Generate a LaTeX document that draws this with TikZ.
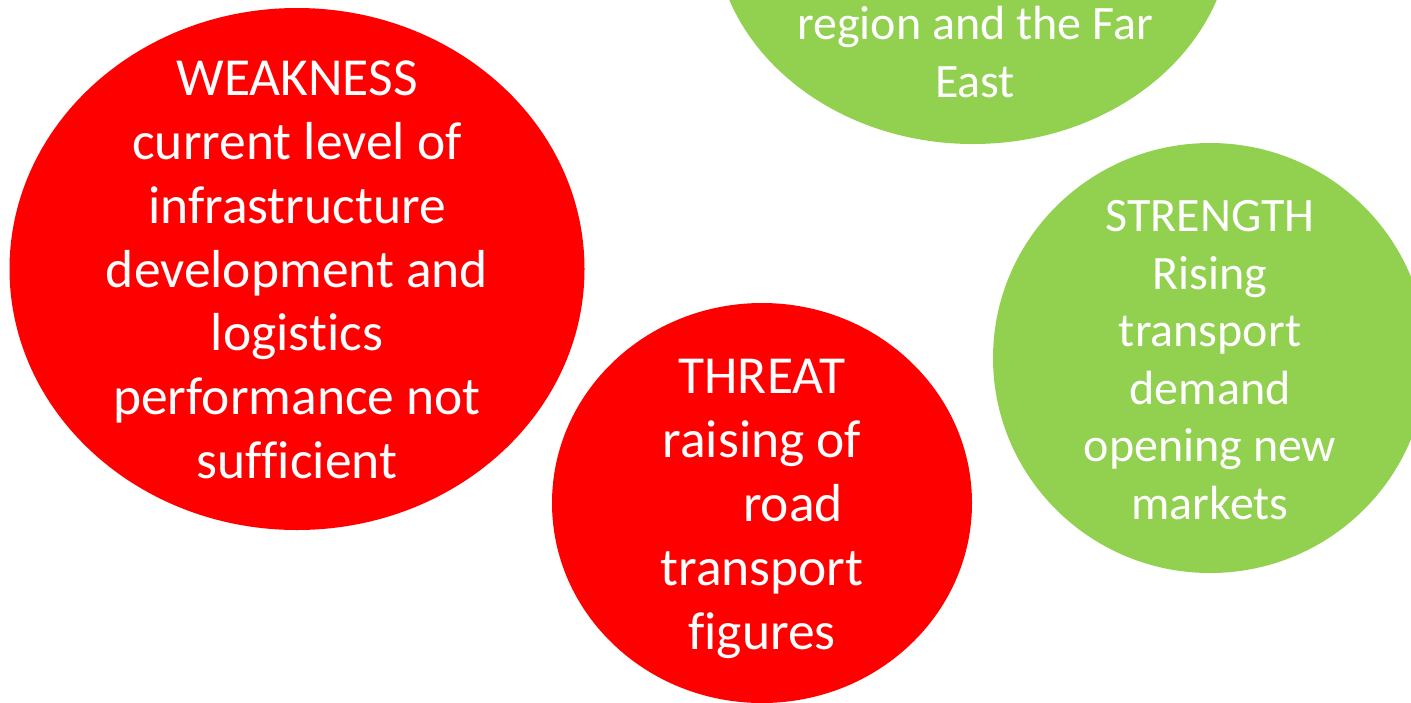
\documentclass[tikz,border=0pt]{standalone}
\usepackage{fontspec}
\setmainfont{Carlito}[Ligatures=CommonOff]
\usetikzlibrary{shapes.geometric}

\definecolor{swotred}{HTML}{FF0000}
\definecolor{swotgreen}{HTML}{92D050}

\begin{document}
\begin{tikzpicture}[x=1pt,y=-1pt,inner sep=0pt]
	\tikzstyle{bubble}=[ellipse, draw=none]
	\tikzstyle{big}=[text=white, align=center, font=\fontsize{53.5}{63.8}\selectfont]
	\tikzstyle{small}=[text=white, align=center, font=\fontsize{48}{57.6}\selectfont]

	\useasboundingbox (0,0) rectangle (1411,702);
	\clip (0,0) rectangle (1411,702);

	\node[bubble, fill=swotgreen, minimum width=518pt, minimum height=436pt] (O) at (973,-74) {};
	\node[bubble, fill=swotred, minimum width=575pt, minimum height=522pt] (W) at (297,269) {};
	\node[bubble, fill=swotred, minimum width=420pt, minimum height=400pt] (T) at (762,503) {};
	\node[bubble, fill=swotgreen, minimum width=434pt, minimum height=430pt] (S) at (1210,358) {};

	\node[small, anchor=south] (Otext) at (975,98) {region and the Far\\East};
	\node[big] (Wtext) at (297,270) {WEAKNESS\\current level of\\infrastructure\\development and\\logistics\\performance not\\sufficient};
	\node[big] (Ttext) at (762,509) {THREAT\\raising of\\\hspace*{62pt}road\\transport\\figures};
	\node[small] (Stext) at (1210,360) {STRENGTH\\Rising\\transport\\demand\\opening new\\markets};
\end{tikzpicture}
\end{document}
